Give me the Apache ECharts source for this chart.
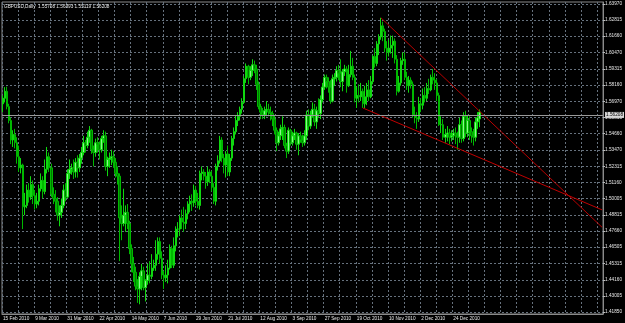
<!DOCTYPE html>
<html>
<head>
<meta charset="utf-8">
<script src="https://cdn.jsdelivr.net/npm/echarts@6/dist/echarts.min.js"></script>
<style>
  html, body { margin: 0; padding: 0; background: #000; }
  #chart { width: 625px; height: 323px; }
</style>
</head>
<body>
<div id="chart"></div>
<script>
// GBPUSD daily, weekday bars from 15 Feb 2010
const symbolTitle = 'GBPUSD,Daily  1.55708 1.56393 1.55119 1.56208'
const startDate = '2010-02-15'
const totalSlots = 299          // bars + empty space on the right (chart shift)
const lastPrice = 1.56208

const priceTicks = [1.63970, 1.62815, 1.61660, 1.60470, 1.59315, 1.58160, 1.56970,
  1.55815, 1.54660, 1.53470, 1.52315, 1.51160, 1.50005, 1.48815, 1.47660,
  1.46505, 1.45315, 1.44160, 1.43005, 1.41850]

// [open, close, low, high]
const ohlc = [
  [1.5680, 1.5720, 1.5620, 1.5740], [1.5720, 1.5770, 1.5690, 1.5800], [1.5770, 1.5660, 1.5640, 1.5803],
  [1.5660, 1.5560, 1.5540, 1.5680], [1.5560, 1.5420, 1.5390, 1.5580], [1.5420, 1.5460, 1.5370, 1.5490],
  [1.5460, 1.5400, 1.5360, 1.5500], [1.5400, 1.5300, 1.5250, 1.5440], [1.5300, 1.5220, 1.5190, 1.5380],
  [1.5220, 1.5240, 1.5180, 1.5290], [1.5240, 1.4940, 1.4780, 1.5250], [1.4940, 1.4950, 1.4880, 1.5040],
  [1.4950, 1.5060, 1.4930, 1.5100], [1.5060, 1.5010, 1.4970, 1.5110], [1.5010, 1.5100, 1.4990, 1.5160],
  [1.5100, 1.5020, 1.4960, 1.5130], [1.5020, 1.4960, 1.4920, 1.5060], [1.4960, 1.4980, 1.4930, 1.5040],
  [1.4980, 1.5070, 1.4950, 1.5100], [1.5070, 1.5130, 1.5050, 1.5180], [1.5130, 1.5050, 1.5000, 1.5160],
  [1.5050, 1.5210, 1.5030, 1.5280], [1.5210, 1.5300, 1.5180, 1.5370], [1.5300, 1.5220, 1.5190, 1.5330],
  [1.5220, 1.5030, 1.5010, 1.5250], [1.5030, 1.5000, 1.4960, 1.5080], [1.5000, 1.4980, 1.4900, 1.5060],
  [1.4980, 1.4880, 1.4840, 1.5010], [1.4880, 1.4900, 1.4800, 1.4950], [1.4900, 1.4950, 1.4860, 1.5000],
  [1.4950, 1.5060, 1.4930, 1.5100], [1.5060, 1.5010, 1.4980, 1.5110], [1.5010, 1.5180, 1.5000, 1.5210],
  [1.5180, 1.5210, 1.5140, 1.5280], [1.5210, 1.5220, 1.5170, 1.5250], [1.5220, 1.5190, 1.5140, 1.5280],
  [1.5190, 1.5260, 1.5150, 1.5290], [1.5260, 1.5220, 1.5150, 1.5310], [1.5220, 1.5290, 1.5190, 1.5320],
  [1.5290, 1.5330, 1.5250, 1.5370], [1.5330, 1.5400, 1.5310, 1.5450], [1.5400, 1.5380, 1.5330, 1.5420],
  [1.5380, 1.5440, 1.5360, 1.5480], [1.5440, 1.5490, 1.5400, 1.5520], [1.5490, 1.5350, 1.5320, 1.5500],
  [1.5350, 1.5330, 1.5230, 1.5380], [1.5330, 1.5400, 1.5300, 1.5430], [1.5400, 1.5390, 1.5330, 1.5440],
  [1.5390, 1.5350, 1.5280, 1.5410], [1.5350, 1.5430, 1.5330, 1.5450], [1.5430, 1.5450, 1.5400, 1.5490],
  [1.5450, 1.5230, 1.5200, 1.5480], [1.5230, 1.5280, 1.5160, 1.5300], [1.5280, 1.5290, 1.5220, 1.5330],
  [1.5290, 1.5300, 1.5240, 1.5350], [1.5300, 1.5260, 1.5220, 1.5340], [1.5260, 1.5180, 1.5150, 1.5290],
  [1.5180, 1.5160, 1.5100, 1.5230], [1.5160, 1.4860, 1.4550, 1.5180], [1.4860, 1.4820, 1.4700, 1.4950],
  [1.4820, 1.4880, 1.4800, 1.5070], [1.4880, 1.4900, 1.4760, 1.4950], [1.4900, 1.4820, 1.4780, 1.4960],
  [1.4820, 1.4640, 1.4600, 1.4840], [1.4640, 1.4530, 1.4470, 1.4670], [1.4530, 1.4470, 1.4400, 1.4580],
  [1.4470, 1.4370, 1.4340, 1.4510], [1.4370, 1.4350, 1.4250, 1.4420], [1.4350, 1.4440, 1.4240, 1.4470],
  [1.4440, 1.4480, 1.4340, 1.4530], [1.4480, 1.4360, 1.4340, 1.4510], [1.4360, 1.4410, 1.4260, 1.4420],
  [1.4410, 1.4450, 1.4380, 1.4530], [1.4450, 1.4440, 1.4390, 1.4550], [1.4440, 1.4500, 1.4420, 1.4600],
  [1.4500, 1.4520, 1.4480, 1.4560], [1.4520, 1.4600, 1.4480, 1.4700], [1.4600, 1.4690, 1.4560, 1.4720],
  [1.4690, 1.4570, 1.4530, 1.4720], [1.4570, 1.4450, 1.4420, 1.4620], [1.4450, 1.4430, 1.4350, 1.4480],
  [1.4430, 1.4450, 1.4400, 1.4520], [1.4450, 1.4500, 1.4390, 1.4560], [1.4500, 1.4640, 1.4490, 1.4670],
  [1.4640, 1.4520, 1.4500, 1.4660], [1.4520, 1.4660, 1.4500, 1.4720], [1.4660, 1.4780, 1.4620, 1.4800],
  [1.4780, 1.4780, 1.4720, 1.4830], [1.4780, 1.4860, 1.4730, 1.4880], [1.4860, 1.4830, 1.4780, 1.4920],
  [1.4830, 1.4820, 1.4760, 1.4940], [1.4820, 1.4890, 1.4780, 1.4920], [1.4890, 1.4960, 1.4850, 1.4980],
  [1.4960, 1.4980, 1.4900, 1.5020], [1.4980, 1.4970, 1.4910, 1.5030], [1.4970, 1.5060, 1.4940, 1.5100],
  [1.5060, 1.4980, 1.4950, 1.5090], [1.4980, 1.4950, 1.4930, 1.5040], [1.4950, 1.5180, 1.4920, 1.5200],
  [1.5180, 1.5190, 1.5130, 1.5230], [1.5190, 1.5160, 1.5130, 1.5210], [1.5160, 1.5120, 1.5070, 1.5190],
  [1.5120, 1.5190, 1.5090, 1.5230], [1.5190, 1.5160, 1.5110, 1.5210], [1.5160, 1.5080, 1.5050, 1.5200],
  [1.5080, 1.4980, 1.4960, 1.5110], [1.4980, 1.5230, 1.4950, 1.5250], [1.5230, 1.5270, 1.5200, 1.5310],
  [1.5270, 1.5420, 1.5250, 1.5450], [1.5420, 1.5290, 1.5260, 1.5440], [1.5290, 1.5240, 1.5180, 1.5320],
  [1.5240, 1.5320, 1.5150, 1.5340], [1.5320, 1.5190, 1.5160, 1.5380], [1.5190, 1.5290, 1.5160, 1.5320],
  [1.5290, 1.5430, 1.5270, 1.5450], [1.5430, 1.5480, 1.5380, 1.5510], [1.5480, 1.5560, 1.5460, 1.5600],
  [1.5560, 1.5590, 1.5520, 1.5620], [1.5590, 1.5640, 1.5560, 1.5660], [1.5640, 1.5690, 1.5610, 1.5720],
  [1.5690, 1.5860, 1.5680, 1.5880], [1.5860, 1.5950, 1.5830, 1.5970], [1.5950, 1.5870, 1.5820, 1.5960],
  [1.5870, 1.5920, 1.5850, 1.5950], [1.5920, 1.5960, 1.5880, 1.6000], [1.5960, 1.5930, 1.5900, 1.5990],
  [1.5930, 1.5820, 1.5780, 1.5960], [1.5820, 1.5660, 1.5640, 1.5840], [1.5660, 1.5620, 1.5570, 1.5680],
  [1.5620, 1.5600, 1.5570, 1.5650], [1.5600, 1.5630, 1.5570, 1.5660], [1.5630, 1.5640, 1.5590, 1.5700],
  [1.5640, 1.5620, 1.5590, 1.5680], [1.5620, 1.5610, 1.5560, 1.5660], [1.5610, 1.5570, 1.5520, 1.5630],
  [1.5570, 1.5490, 1.5460, 1.5600], [1.5490, 1.5400, 1.5340, 1.5510], [1.5400, 1.5450, 1.5380, 1.5480],
  [1.5450, 1.5500, 1.5420, 1.5530], [1.5500, 1.5510, 1.5420, 1.5590], [1.5510, 1.5380, 1.5360, 1.5530],
  [1.5380, 1.5340, 1.5290, 1.5400], [1.5340, 1.5490, 1.5320, 1.5510], [1.5490, 1.5400, 1.5380, 1.5500],
  [1.5400, 1.5450, 1.5380, 1.5480], [1.5450, 1.5470, 1.5420, 1.5500], [1.5470, 1.5390, 1.5350, 1.5480],
  [1.5390, 1.5450, 1.5310, 1.5470], [1.5450, 1.5420, 1.5400, 1.5480], [1.5420, 1.5400, 1.5370, 1.5460],
  [1.5400, 1.5450, 1.5380, 1.5490], [1.5450, 1.5600, 1.5420, 1.5630], [1.5600, 1.5520, 1.5490, 1.5640],
  [1.5520, 1.5600, 1.5500, 1.5630], [1.5600, 1.5640, 1.5580, 1.5690], [1.5640, 1.5550, 1.5520, 1.5680],
  [1.5550, 1.5630, 1.5500, 1.5660], [1.5630, 1.5610, 1.5580, 1.5720], [1.5610, 1.5710, 1.5570, 1.5740],
  [1.5710, 1.5800, 1.5690, 1.5830], [1.5800, 1.5870, 1.5780, 1.5890], [1.5870, 1.5840, 1.5790, 1.5890],
  [1.5840, 1.5800, 1.5760, 1.5870], [1.5800, 1.5700, 1.5680, 1.5850], [1.5700, 1.5860, 1.5690, 1.5890],
  [1.5860, 1.5870, 1.5810, 1.5900], [1.5870, 1.5920, 1.5840, 1.5950], [1.5920, 1.5900, 1.5850, 1.5960],
  [1.5900, 1.5840, 1.5800, 1.6000], [1.5840, 1.5910, 1.5770, 1.5930], [1.5910, 1.5930, 1.5880, 1.5960],
  [1.5930, 1.5810, 1.5760, 1.5950], [1.5810, 1.5890, 1.5800, 1.5960], [1.5890, 1.5950, 1.5870, 1.6060],
  [1.5950, 1.5870, 1.5850, 1.6010], [1.5870, 1.5720, 1.5690, 1.5890], [1.5720, 1.5740, 1.5650, 1.5800],
  [1.5740, 1.5730, 1.5690, 1.5820], [1.5730, 1.5770, 1.5700, 1.5830], [1.5770, 1.5680, 1.5650, 1.5790],
  [1.5680, 1.5730, 1.5650, 1.5810], [1.5730, 1.5780, 1.5670, 1.5830], [1.5780, 1.5730, 1.5700, 1.5850],
  [1.5730, 1.5840, 1.5720, 1.5880], [1.5840, 1.6020, 1.5820, 1.6030], [1.6020, 1.5970, 1.5940, 1.6080],
  [1.5970, 1.6110, 1.5950, 1.6130], [1.6110, 1.6160, 1.6030, 1.6180], [1.6160, 1.6240, 1.6140, 1.6298],
  [1.6240, 1.6200, 1.6130, 1.6270], [1.6200, 1.6080, 1.6050, 1.6220], [1.6080, 1.6050, 1.5990, 1.6130],
  [1.6050, 1.6080, 1.6020, 1.6140], [1.6080, 1.6100, 1.6040, 1.6170], [1.6100, 1.6130, 1.6010, 1.6170],
  [1.6130, 1.6000, 1.5970, 1.6150], [1.6000, 1.5770, 1.5740, 1.6030], [1.5770, 1.5830, 1.5760, 1.5880],
  [1.5830, 1.5990, 1.5810, 1.6010], [1.5990, 1.6000, 1.5960, 1.6050], [1.6000, 1.5870, 1.5850, 1.6050],
  [1.5870, 1.5810, 1.5780, 1.5910], [1.5810, 1.5850, 1.5760, 1.5880], [1.5850, 1.5820, 1.5790, 1.5870],
  [1.5820, 1.5600, 1.5580, 1.5840], [1.5600, 1.5580, 1.5540, 1.5660], [1.5580, 1.5570, 1.5500, 1.5620],
  [1.5570, 1.5680, 1.5550, 1.5730], [1.5680, 1.5670, 1.5620, 1.5720], [1.5670, 1.5740, 1.5640, 1.5790],
  [1.5740, 1.5720, 1.5690, 1.5800], [1.5720, 1.5790, 1.5700, 1.5830], [1.5790, 1.5780, 1.5750, 1.5860],
  [1.5780, 1.5870, 1.5770, 1.5890], [1.5870, 1.5850, 1.5820, 1.5930], [1.5850, 1.5830, 1.5780, 1.5900],
  [1.5830, 1.5740, 1.5700, 1.5860], [1.5740, 1.5530, 1.5520, 1.5760], [1.5530, 1.5530, 1.5470, 1.5590],
  [1.5530, 1.5440, 1.5420, 1.5570], [1.5440, 1.5460, 1.5400, 1.5500], [1.5460, 1.5470, 1.5410, 1.5520],
  [1.5470, 1.5440, 1.5390, 1.5500], [1.5440, 1.5450, 1.5410, 1.5490], [1.5450, 1.5470, 1.5420, 1.5500],
  [1.5470, 1.5450, 1.5390, 1.5510], [1.5450, 1.5440, 1.5350, 1.5480], [1.5440, 1.5530, 1.5400, 1.5580],
  [1.5530, 1.5430, 1.5400, 1.5560], [1.5430, 1.5590, 1.5410, 1.5620], [1.5590, 1.5470, 1.5440, 1.5630],
  [1.5470, 1.5560, 1.5440, 1.5600], [1.5560, 1.5480, 1.5420, 1.5590], [1.5480, 1.5450, 1.5400, 1.5510],
  [1.5450, 1.5440, 1.5380, 1.5500], [1.5440, 1.5550, 1.5410, 1.5580], [1.5550, 1.5580, 1.5500, 1.5620],
  [1.55708, 1.56208, 1.55119, 1.56393]
]

// trend lines: [barIndex, price] start and end points
const upperTrend = [[188, 1.6298], [298, 1.4793]]
const lowerTrend = [[179, 1.5650], [298, 1.4918]]

const months = ['Jan', 'Feb', 'Mar', 'Apr', 'May', 'Jun', 'Jul', 'Aug', 'Sep', 'Oct', 'Nov', 'Dec']

// weekday dates for every slot
const dates = []
const d = new Date(startDate + 'T00:00:00Z')
while (dates.length < totalSlots) {
  const wd = d.getUTCDay()
  if (wd !== 0 && wd !== 6) {
    dates.push(d.getUTCDate() + ' ' + months[d.getUTCMonth()] + ' ' + d.getUTCFullYear())
  }
  d.setUTCDate(d.getUTCDate() + 1)
}

const font = 'Liberation Sans'
const fs = 4.7
const gridColor = '#66717d'
const showDate = (i) => i % 16 === 0 && i < ohlc.length

const chart = echarts.init(document.getElementById('chart'), null, { renderer: 'canvas' })

chart.setOption({
  backgroundColor: '#000000',
  animation: false,
  title: {
    text: symbolTitle,
    left: 4,
    top: 4,
    padding: 0,
    textStyle: { color: '#e8e8e8', fontSize: fs, fontWeight: 'normal', fontFamily: font }
  },
  grid: {
    left: 2,
    right: 20,
    top: 2,
    bottom: 9,
    show: true,
    borderColor: '#8a8a8a',
    borderWidth: 1
  },
  xAxis: {
    type: 'category',
    data: dates,
    boundaryGap: true,
    axisLine: { lineStyle: { color: '#8a8a8a' } },
    axisTick: {
      interval: showDate,
      alignWithLabel: true,
      length: 2,
      lineStyle: { color: '#bbbbbb' }
    },
    axisLabel: {
      interval: showDate,
      color: '#e8e8e8',
      fontSize: fs,
      fontFamily: font,
      align: 'left',
      margin: 2
    },
    splitLine: {
      show: true,
      interval: (i) => i % 8 === 0,
      lineStyle: { color: gridColor, type: [2, 2], width: 1 }
    }
  },
  yAxis: {
    type: 'value',
    position: 'right',
    min: 1.41700,
    max: 1.64113,
    scale: true,
    axisLine: { show: true, lineStyle: { color: '#8a8a8a' } },
    axisTick: {
      show: true,
      customValues: priceTicks,
      length: 2,
      lineStyle: { color: '#bbbbbb' }
    },
    axisLabel: {
      customValues: priceTicks,
      showMinLabel: true,
      showMaxLabel: true,
      hideOverlap: false,
      formatter: (v) => v.toFixed(5),
      color: '#e8e8e8',
      fontSize: fs,
      fontFamily: font,
      margin: 2
    },
    splitLine: {
      show: true,
      lineStyle: { color: gridColor, type: [2, 2], width: 1 }
    }
  },
  series: [
    {
      name: 'GBPUSD',
      type: 'candlestick',
      data: ohlc,
      barWidth: 2,
      itemStyle: {
        color: '#8cf58c',
        color0: '#007a00',
        borderColor: '#10d810',
        borderColor0: '#00b800',
        borderWidth: 1
      },
      markLine: {
        silent: true,
        symbol: 'none',
        data: [{ yAxis: lastPrice }],
        lineStyle: { color: '#9a9a9a', type: 'solid', width: 1 },
        label: {
          position: 'end',
          formatter: () => lastPrice.toFixed(5),
          color: '#000000',
          backgroundColor: '#d8d8d8',
          fontSize: fs,
          fontFamily: font,
          padding: [1, 1, 0, 1],
          distance: 2
        }
      }
    },
    {
      name: 'upper',
      type: 'line',
      data: upperTrend,
      showSymbol: false,
      silent: true,
      lineStyle: { color: '#b80000', width: 1 }
    },
    {
      name: 'lower',
      type: 'line',
      data: lowerTrend,
      showSymbol: false,
      silent: true,
      lineStyle: { color: '#c00000', width: 1 }
    }
  ]
})
</script>
</body>
</html>
